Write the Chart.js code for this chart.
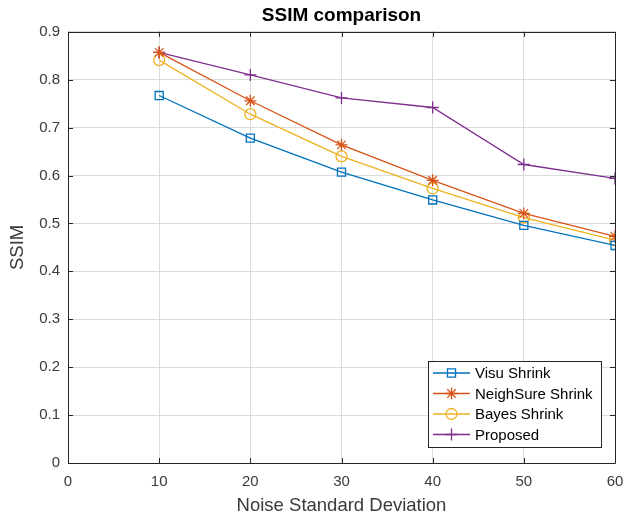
<!DOCTYPE html>
<html><head><meta charset="utf-8">
<script src="https://cdn.jsdelivr.net/npm/chart.js@4/dist/chart.umd.min.js"></script>
<style>html,body{margin:0;padding:0;background:#fff}</style>
</head><body>
<canvas id="c" width="630" height="522" style="width:630px;height:522px;display:block"></canvas>
<script>
// ---- data ----
const noiseLevels = [10, 20, 30, 40, 50, 60];
const visuShrink = [0.767, 0.678, 0.607, 0.549, 0.496, 0.454];
const neighSureShrink = [0.857, 0.756, 0.664, 0.590, 0.521, 0.473];
const bayesShrink = [0.841, 0.728, 0.640, 0.573, 0.512, 0.465];
const proposed = [0.857, 0.810, 0.762, 0.742, 0.623, 0.594];
const seriesNames = ['Visu Shrink', 'NeighSure Shrink', 'Bayes Shrink', 'Proposed'];
const xTickValues = [0, 10, 20, 30, 40, 50, 60];
const yTickValues = [0, 0.1, 0.2, 0.3, 0.4, 0.5, 0.6, 0.7, 0.8, 0.9];
const chartTitle = 'SSIM comparison';
const xTitle = 'Noise Standard Deviation';
const yTitle = 'SSIM';

// ---- styles ----
const colors = ['#0072BD', '#D95319', '#EDB120', '#7E2F8E'];
const markers = ['rect', 'star', 'circle', 'cross'];
const radii = [5.7, 6, 5.5, 6];
const FONT = '"Liberation Sans", Arial, sans-serif';
const AXIS = '#262626';
const TEXT = '#3a3a3a';
const GRID = '#dcdcdc';

const seriesValues = [visuShrink, neighSureShrink, bayesShrink, proposed];
const datasets = seriesValues.map((vals, i) => ({
  label: seriesNames[i],
  data: noiseLevels.map((x, j) => ({x: x, y: vals[j]})),
  borderColor: colors[i],
  backgroundColor: colors[i],
  borderWidth: 1.3,
  pointStyle: markers[i],
  pointRadius: radii[i],
  pointHoverRadius: radii[i],
  pointBorderColor: colors[i],
  pointBackgroundColor: 'rgba(0,0,0,0)',
  pointBorderWidth: 1.3,
  tension: 0,
  fill: false
}));

function drawMarker(ctx, style, x, y, r, color) {
  ctx.save();
  ctx.strokeStyle = color; ctx.lineWidth = 1.3;
  ctx.beginPath();
  if (style === 'rect') {
    const s = r * Math.SQRT1_2 * 2;
    ctx.rect(x - s/2, y - s/2, s, s);
  } else if (style === 'circle') {
    ctx.arc(x, y, r, 0, Math.PI * 2);
  } else if (style === 'cross') {
    ctx.moveTo(x - r, y); ctx.lineTo(x + r, y);
    ctx.moveTo(x, y - r); ctx.lineTo(x, y + r);
  } else if (style === 'star') {
    for (let k = 0; k < 4; k++) {
      const a = k * Math.PI / 4;
      ctx.moveTo(x - r * Math.sin(a), y - r * Math.cos(a));
      ctx.lineTo(x + r * Math.sin(a), y + r * Math.cos(a));
    }
  }
  ctx.stroke();
  ctx.restore();
}

const framePlugin = {
  id: 'frame',
  beforeDatasetsDraw(chart) {
    const {ctx, chartArea: a, scales} = chart;
    ctx.save();
    ctx.strokeStyle = AXIS; ctx.lineWidth = 1;
    ctx.beginPath();
    ctx.rect(Math.round(a.left) + 0.5, Math.round(a.top) + 0.5, Math.round(a.right - a.left), Math.round(a.bottom - a.top));
    ctx.stroke();
    const tl = 5;
    ctx.beginPath();
    xTickValues.forEach(v => {
      const px = Math.round(scales.x.getPixelForValue(v)) + 0.5;
      ctx.moveTo(px, a.bottom); ctx.lineTo(px, a.bottom - tl);
      ctx.moveTo(px, a.top); ctx.lineTo(px, a.top + tl);
    });
    yTickValues.forEach(v => {
      const py = Math.round(scales.y.getPixelForValue(v)) + 0.5;
      ctx.moveTo(a.left, py); ctx.lineTo(a.left + tl, py);
      ctx.moveTo(a.right, py); ctx.lineTo(a.right - tl, py);
    });
    ctx.stroke();
    ctx.restore();
  },
  afterDraw(chart) {
    const ctx = chart.ctx;
    const bx = 428, by = 361, bw = 173, bh = 86;
    ctx.save();
    ctx.fillStyle = '#fff';
    ctx.fillRect(bx, by, bw, bh);
    ctx.strokeStyle = AXIS; ctx.lineWidth = 1;
    ctx.strokeRect(bx + 0.5, by + 0.5, bw, bh);
    ctx.font = '15px ' + FONT;
    ctx.textBaseline = 'middle';
    ctx.textAlign = 'left';
    seriesNames.forEach((name, i) => {
      const y = 373 + i * 20.5;
      ctx.strokeStyle = colors[i]; ctx.lineWidth = 1.3;
      ctx.beginPath(); ctx.moveTo(433, y); ctx.lineTo(470, y); ctx.stroke();
      drawMarker(ctx, markers[i], 451.5, y, radii[i], colors[i]);
      ctx.fillStyle = '#000';
      ctx.fillText(name, 475, y + 1);
    });
    ctx.restore();
  }
};

new Chart(document.getElementById('c'), {
  type: 'line',
  data: {datasets: datasets},
  plugins: [framePlugin],
  options: {
    responsive: false,
    animation: false,
    events: [],
    layout: {padding: {left: 0, right: 15, top: 0, bottom: 0}},
    plugins: {
      legend: {display: false},
      tooltip: {enabled: false},
      title: {
        display: true, text: chartTitle, color: '#000', fullSize: false,
        font: {family: FONT, size: 19, weight: 'bold'},
        padding: {top: 4, bottom: 5}
      }
    },
    scales: {
      x: {
        type: 'linear', min: 0, max: 60,
        afterFit(s) { s.height = 59; s.paddingRight = 0; s.paddingLeft = 0; },
        afterBuildTicks(s) { s.ticks = xTickValues.map(v => ({value: v})); },
        ticks: {color: TEXT, font: {family: FONT, size: 15}, padding: 10, maxRotation: 0,
                callback: v => String(v)},
        grid: {color: GRID, drawTicks: false, lineWidth: 1},
        border: {display: false},
        title: {display: true, text: xTitle, color: TEXT, font: {family: FONT, size: 18.5}, padding: {top: 0, bottom: 5}}
      },
      y: {
        type: 'linear', min: 0, max: 0.9,
        afterFit(s) { s.width = 68; },
        afterBuildTicks(s) { s.ticks = yTickValues.map(v => ({value: v})); },
        ticks: {color: TEXT, font: {family: FONT, size: 15}, padding: 8,
                callback: v => v === 0 ? '0' : Number(v).toFixed(1)},
        grid: {color: GRID, drawTicks: false, lineWidth: 1},
        border: {display: false},
        title: {display: true, text: yTitle, color: TEXT, font: {family: FONT, size: 18.5}, padding: {top: 7, bottom: 0}}
      }
    }
  }
});
</script>
</body></html>
